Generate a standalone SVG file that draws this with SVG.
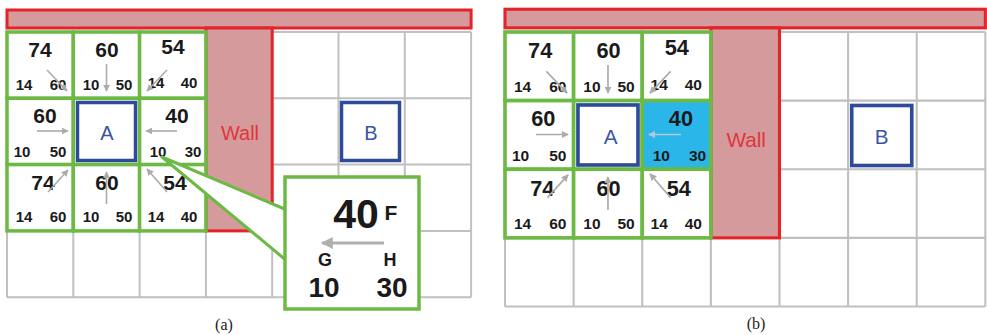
<svg xmlns="http://www.w3.org/2000/svg" width="987" height="335" viewBox="0 0 987 335">
<style>
.bg{fill:#ffffff}
.grid{stroke:#c0c0c0;stroke-width:2;fill:none}
.wall{fill:#d49a9c;stroke:#e4232b;stroke-width:3}
.cell{fill:#ffffff;stroke:#6cb944;stroke-width:3.5}
.cur{fill:#2bb6ea;stroke:#6cb944;stroke-width:3.5}
.ab{fill:#ffffff;stroke:#2e4a9b;stroke-width:3.5}
.big{font-family:"Liberation Sans",Arial,sans-serif;font-weight:bold;font-size:21px;fill:#1a1a1a;text-anchor:middle}
.sm{font-family:"Liberation Sans",Arial,sans-serif;font-weight:bold;font-size:15px;fill:#1a1a1a;text-anchor:middle}
.lt{font-family:"Liberation Sans",Arial,sans-serif;font-size:20px;fill:#3a55a3;text-anchor:middle}
.wt{font-family:"Liberation Sans",Arial,sans-serif;font-size:20px;fill:#e0353b;text-anchor:middle}
.arr{stroke:#ababab;stroke-width:1.6;fill:none;marker-end:url(#ah)}
.arrc{stroke:#b3c9d8;stroke-width:1.6;fill:none;marker-end:url(#ahc)}
.cap{font-family:"Liberation Serif","Times New Roman",serif;font-size:16px;fill:#222;text-anchor:middle}
.cb{font-family:"Liberation Sans",Arial,sans-serif;font-weight:bold;fill:#1a1a1a;text-anchor:middle}
</style>
<defs>
<marker id="ah" viewBox="0 0 10 10" refX="9" refY="5" markerWidth="7" markerHeight="7" markerUnits="userSpaceOnUse" orient="auto"><path d="M0,0 L10,5 L0,10 z" fill="#ababab"/></marker>
<marker id="ahc" viewBox="0 0 10 10" refX="9" refY="5" markerWidth="7" markerHeight="7" markerUnits="userSpaceOnUse" orient="auto"><path d="M0,0 L10,5 L0,10 z" fill="#b3c9d8"/></marker>
<marker id="ahb" viewBox="0 0 10 10" refX="9" refY="5" markerWidth="14" markerHeight="12" markerUnits="userSpaceOnUse" orient="auto"><path d="M0,0 L10,5 L0,10 z" fill="#b0b0b0"/></marker>
</defs>
<rect class="bg" x="0" y="0" width="987" height="335"/>

<!-- Panel (a) -->
<g id="panel-a" transform="translate(7,32)">
  <g id="a-grid">
    <path class="grid" d="M0,0V265.2M66.3,0V265.2M132.6,0V265.2M198.9,0V265.2M265.2,0V265.2M331.5,0V265.2M397.8,0V265.2M464.1,0V265.2M0,0H464.1M0,66.3H464.1M0,132.6H464.1M0,198.9H464.1M0,265.2H464.1"/>
  </g>
  <g id="a-topwall"><rect class="wall" x="0" y="-22" width="464.1" height="18"/></g>
  <g id="a-wall"><rect class="wall" x="198.9" y="-4" width="66.3" height="202.9"/><text class="wt" x="233" y="108">Wall</text></g>
  <g id="a-c00"><rect class="cell" x="0" y="0" width="66.3" height="66.3"/><text class="big" x="33" y="25">74</text><text class="sm" x="17" y="58">14</text><text class="sm" x="51" y="58">60</text></g>
  <g id="a-c10"><rect class="cell" x="66.3" y="0" width="66.3" height="66.3"/><text class="big" x="100" y="25">60</text><text class="sm" x="84" y="58">10</text><text class="sm" x="117" y="58">50</text></g>
  <g id="a-c20"><rect class="cell" x="132.6" y="0" width="66.3" height="66.3"/><text class="big" x="166" y="22">54</text><text class="sm" x="149" y="56">14</text><text class="sm" x="182" y="56">40</text></g>
  <g id="a-c01"><rect class="cell" x="0" y="66.3" width="66.3" height="66.3"/><text class="big" x="38" y="91">60</text><text class="sm" x="15" y="125">10</text><text class="sm" x="51" y="125">50</text></g>
  <g id="a-A"><rect class="cell" x="66.3" y="66.3" width="66.3" height="66.3"/><rect class="ab" x="70.5" y="70.5" width="58" height="58"/><text class="lt" x="100" y="108">A</text></g>
  <g id="a-c21"><rect class="cell" x="132.6" y="66.3" width="66.3" height="66.3"/><text class="big" x="170" y="91">40</text><text class="sm" x="151" y="125">10</text><text class="sm" x="186" y="125">30</text></g>
  <g id="a-c02"><rect class="cell" x="0" y="132.6" width="66.3" height="66.3"/><text class="big" x="36" y="158">74</text><text class="sm" x="17" y="190">14</text><text class="sm" x="51" y="190">60</text></g>
  <g id="a-c12"><rect class="cell" x="66.3" y="132.6" width="66.3" height="66.3"/><text class="big" x="100" y="158">60</text><text class="sm" x="84" y="190">10</text><text class="sm" x="117" y="190">50</text></g>
  <g id="a-c22"><rect class="cell" x="132.6" y="132.6" width="66.3" height="66.3"/><text class="big" x="168" y="158">54</text><text class="sm" x="149" y="190">14</text><text class="sm" x="182" y="190">40</text></g>
  <g id="a-B"><rect class="ab" x="334.5" y="70.5" width="58" height="58"/><text class="lt" x="364" y="108">B</text></g>
  <g id="a-arrows">
    <line class="arr" x1="40" y1="38" x2="60" y2="59"/>
    <line class="arr" x1="99.5" y1="32" x2="99.5" y2="59"/>
    <line class="arr" x1="160" y1="38" x2="140" y2="59"/>
    <line class="arr" x1="30" y1="99" x2="61" y2="99"/>
    <line class="arr" x1="170" y1="99" x2="139" y2="99"/>
    <line class="arr" x1="41" y1="160" x2="61" y2="138"/>
    <line class="arr" x1="99.5" y1="172" x2="99.5" y2="140"/>
    <line class="arr" x1="160" y1="160" x2="140" y2="137"/>
  </g>
</g>

<!-- Callout -->
<g id="callout">
  <polygon points="162,157 287,210 287,261" fill="#ffffff" stroke="#6cb944" stroke-width="3" stroke-linejoin="round"/>
  <rect x="285" y="177" width="134" height="132" fill="#ffffff" stroke="#6cb944" stroke-width="3.5"/>
  <text class="cb" x="356" y="228" font-size="41">40</text>
  <text class="cb" x="391" y="220" font-size="21">F</text>
  <line x1="384" y1="243" x2="322" y2="243" stroke="#b0b0b0" stroke-width="3" marker-end="url(#ahb)"/>
  <text class="cb" x="325" y="266" font-size="18">G</text>
  <text class="cb" x="390" y="266" font-size="18">H</text>
  <text class="cb" x="324" y="297" font-size="28">10</text>
  <text class="cb" x="392" y="297" font-size="28">30</text>
</g>

<!-- Panel (b) -->
<g id="panel-b" transform="translate(505,32) scale(1.035)">
  <g id="b-grid">
    <path class="grid" d="M0,0V265.2M66.3,0V265.2M132.6,0V265.2M198.9,0V265.2M265.2,0V265.2M331.5,0V265.2M397.8,0V265.2M464.1,0V265.2M0,0H464.1M0,66.3H464.1M0,132.6H464.1M0,198.9H464.1M0,265.2H464.1"/>
  </g>
  <g id="b-topwall"><rect class="wall" x="0" y="-22" width="464.1" height="18"/></g>
  <g id="b-wall"><rect class="wall" x="198.9" y="-4" width="66.3" height="202.9"/><text class="wt" x="233" y="111">Wall</text></g>
  <g id="b-c00"><rect class="cell" x="0" y="0" width="66.3" height="66.3"/><text class="big" x="34" y="25">74</text><text class="sm" x="17" y="58">14</text><text class="sm" x="51" y="58">60</text></g>
  <g id="b-c10"><rect class="cell" x="66.3" y="0" width="66.3" height="66.3"/><text class="big" x="100" y="25">60</text><text class="sm" x="84" y="58">10</text><text class="sm" x="117" y="58">50</text></g>
  <g id="b-c20"><rect class="cell" x="132.6" y="0" width="66.3" height="66.3"/><text class="big" x="166" y="22">54</text><text class="sm" x="149" y="56">14</text><text class="sm" x="182" y="56">40</text></g>
  <g id="b-c01"><rect class="cell" x="0" y="66.3" width="66.3" height="66.3"/><text class="big" x="37" y="91">60</text><text class="sm" x="15" y="125">10</text><text class="sm" x="51" y="125">50</text></g>
  <g id="b-A"><rect class="cell" x="66.3" y="66.3" width="66.3" height="66.3"/><rect class="ab" x="70.5" y="70.5" width="58" height="58"/><text class="lt" x="102" y="108">A</text></g>
  <g id="b-c21"><rect class="cur" x="132.6" y="66.3" width="66.3" height="66.3"/><text class="big" x="170" y="91">40</text><text class="sm" x="151" y="125">10</text><text class="sm" x="186" y="125">30</text></g>
  <g id="b-c02"><rect class="cell" x="0" y="132.6" width="66.3" height="66.3"/><text class="big" x="36" y="158">74</text><text class="sm" x="17" y="190">14</text><text class="sm" x="51" y="190">60</text></g>
  <g id="b-c12"><rect class="cell" x="66.3" y="132.6" width="66.3" height="66.3"/><text class="big" x="100" y="158">60</text><text class="sm" x="84" y="190">10</text><text class="sm" x="117" y="190">50</text></g>
  <g id="b-c22"><rect class="cell" x="132.6" y="132.6" width="66.3" height="66.3"/><text class="big" x="168" y="158">54</text><text class="sm" x="149" y="190">14</text><text class="sm" x="182" y="190">40</text></g>
  <g id="b-B"><rect class="ab" x="335" y="71" width="58" height="58"/><text class="lt" x="364" y="108">B</text></g>
  <g id="b-arrows">
    <line class="arr" x1="40" y1="38" x2="60" y2="59"/>
    <line class="arr" x1="99.5" y1="32" x2="99.5" y2="59"/>
    <line class="arr" x1="160" y1="38" x2="140" y2="59"/>
    <line class="arr" x1="30" y1="99" x2="61" y2="99"/>
    <line class="arrc" x1="170" y1="99" x2="139" y2="99"/>
    <line class="arr" x1="41" y1="160" x2="61" y2="138"/>
    <line class="arr" x1="99.5" y1="172" x2="99.5" y2="140"/>
    <line class="arr" x1="160" y1="160" x2="140" y2="137"/>
  </g>
</g>

<g id="captions">
  <text class="cap" x="224" y="330">(a)</text>
  <text class="cap" x="756" y="329">(b)</text>
</g>
</svg>
